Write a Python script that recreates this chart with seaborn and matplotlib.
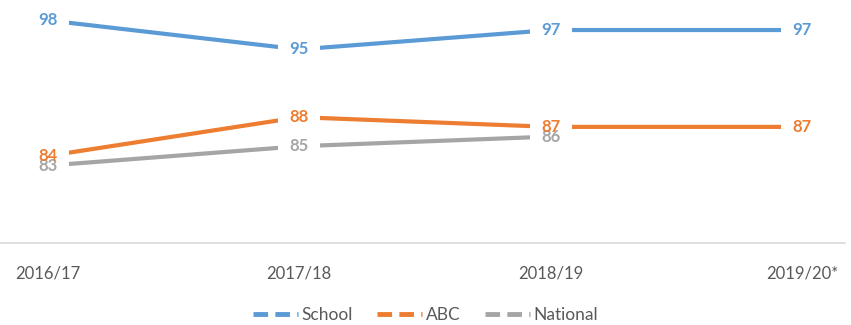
import matplotlib
matplotlib.use("Agg")
import matplotlib.pyplot as plt
from matplotlib.lines import Line2D
import pandas as pd
import seaborn as sns

# chart values
years = ["2016/17", "2017/18", "2018/19", "2019/20*"]
school = [98, 95, 97, 97]
abc = [84, 88, 87, 87]
national = [83, 85, 86, None]

series_names = ["School", "ABC", "National"]
colors = {"School": "#5B9BD5", "ABC": "#ED7D31", "National": "#A5A5A5"}

# long-form table for seaborn
rows = []
for name, vals in zip(series_names, [school, abc, national]):
    for i, (yr, v) in enumerate(zip(years, vals)):
        if v is not None:
            rows.append({"pos": i, "year": yr, "value": v, "series": name})
df = pd.DataFrame(rows)

sns.set_style("white")
plt.rcParams["font.family"] = ["Lato", "DejaVu Sans"]

fig = plt.figure(figsize=(8.51, 3.25), dpi=100)
ax = fig.add_axes([0.0, 0.252, 0.993, 0.745])

sns.lineplot(data=df, x="pos", y="value", hue="series", palette=colors,
             hue_order=series_names, linewidth=3, legend=False, ax=ax,
             zorder=2)

# white boxes behind the labels cut the lines, like the original
box = [(-1.2, -0.55), (1.2, -0.55), (1.2, 0.55), (-1.2, 0.55)]
ax.scatter(df["pos"], df["value"], marker=box, s=900, color="white",
           edgecolors="none", zorder=3)
for name in ["National", "ABC", "School"]:
    sub = df[df["series"] == name]
    for _, r in sub.iterrows():
        ax.text(r["pos"], r["value"], str(int(r["value"])), ha="center",
                va="center", fontsize=12, fontweight="bold",
                color=colors[name], zorder=4)

ax.set_xlim(-0.19, 3.17)
ax.set_ylim(75, 100)
ax.set_xticks(range(len(years)))
ax.set_xticklabels(years, fontsize=12, color="#595959")
ax.tick_params(axis="x", length=0, pad=16)
ax.set_yticks([])
ax.set_xlabel("")
ax.set_ylabel("")
for side in ["top", "left", "right"]:
    ax.spines[side].set_visible(False)
ax.spines["bottom"].set_color("#D9D9D9")
ax.spines["bottom"].set_linewidth(1.2)

handles = [Line2D([0], [0], color=colors[n], lw=3.5, linestyle=(0, (3, 1.5)))
           for n in series_names]
fig.legend(handles, series_names, loc="center", bbox_to_anchor=(0.5, 0.03),
           ncol=3, frameon=False, fontsize=12.5, handlelength=2.6,
           handletextpad=0.2, columnspacing=1.4, labelcolor="#595959")

fig.savefig("out.png", dpi=100)
